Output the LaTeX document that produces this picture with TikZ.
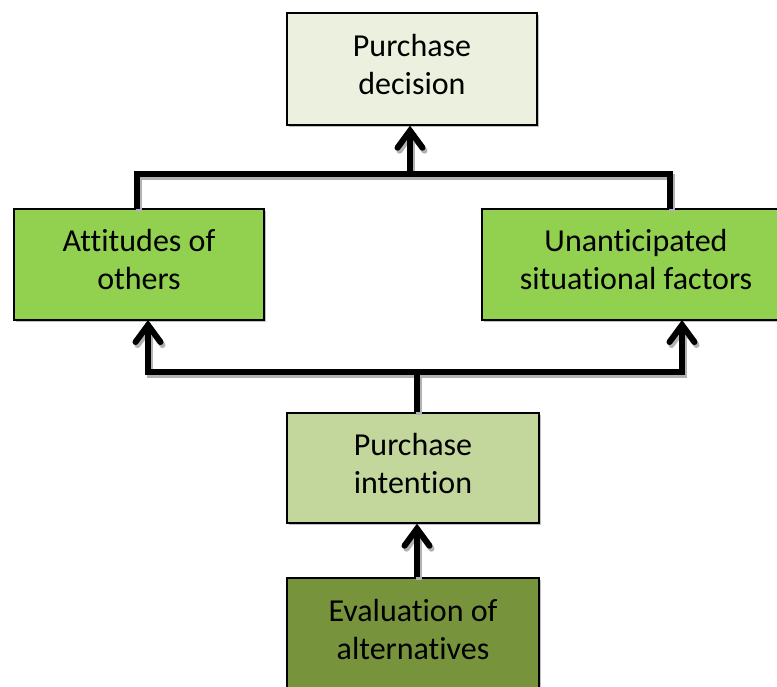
\documentclass[tikz,border=0pt]{standalone}
\usepackage{fontspec}
\setmainfont{Carlito}[Ligatures=NoCommon]
\usetikzlibrary{arrows.meta,shadows,calc}
\definecolor{cdec}{HTML}{EBF1DE}
\definecolor{cgreen}{HTML}{92D050}
\definecolor{cint}{HTML}{C3D69B}
\definecolor{ceva}{HTML}{77933C}
\begin{document}
\begin{tikzpicture}[x=1pt,y=-1pt,
  box/.style={draw=black,line width=1.3pt,align=center,font=\fontsize{32}{38}\selectfont,
    inner sep=0pt,text depth=10pt,drop shadow={shadow xshift=1.5pt,shadow yshift=-1.5pt,fill=gray!60,opacity=0.8}},
  conn/.style={line width=6pt,line join=miter},
  arr/.style={conn,-{Straight Barb[length=17pt,width=25pt,line cap=round]}},
  sh/.style={draw=gray!60,transform canvas={shift={(2pt,-3pt)}}}]
\useasboundingbox (0,0) rectangle (777,686);
\fill[white] (0,0) rectangle (777,686);
\node[box,fill=cdec,minimum width=250,minimum height=112] (dec) at (412,69) {Purchase\\decision};
\node[box,fill=cgreen,minimum width=250,minimum height=111] (att) at (139,264.5) {Attitudes of\\others};
\node[box,fill=cgreen,minimum width=308,minimum height=111] (una) at (636,264.5) {Unanticipated\\situational factors};
\node[box,fill=cint,minimum width=252,minimum height=110] (int) at (413,468) {Purchase\\intention};
\node[box,fill=ceva,minimum width=252,minimum height=113] (eva) at (413,634.5) {Evaluation of\\alternatives};
\coordinate (jt) at (410,174);
\coordinate (ut) at (670,209);
\coordinate (at) at (137,209);
\coordinate (jb) at (417,372);
\coordinate (ab) at (148,320);
\coordinate (ub) at (682,320);
% shadows
\draw[conn,sh] (at) |- (jt) -| (ut);
\draw[arr,sh] (jt) -- (dec.south -| jt);
\draw[conn,sh] (jb) -- (jb |- int.north);
\draw[arr,sh] (jb) -| (ab);
\draw[arr,sh] (jb) -| (ub);
\draw[arr,sh] (eva.north -| jb) -- (int.south -| jb);
% lines
\draw[conn] (at) |- (jt) -| (ut);
\draw[arr] (jt) -- (dec.south -| jt);
\draw[conn] (jb) -- (jb |- int.north);
\draw[arr] (jb) -| (ab);
\draw[arr] (jb) -| (ub);
\draw[arr] (eva.north -| jb) -- (int.south -| jb);
\end{tikzpicture}
\end{document}
